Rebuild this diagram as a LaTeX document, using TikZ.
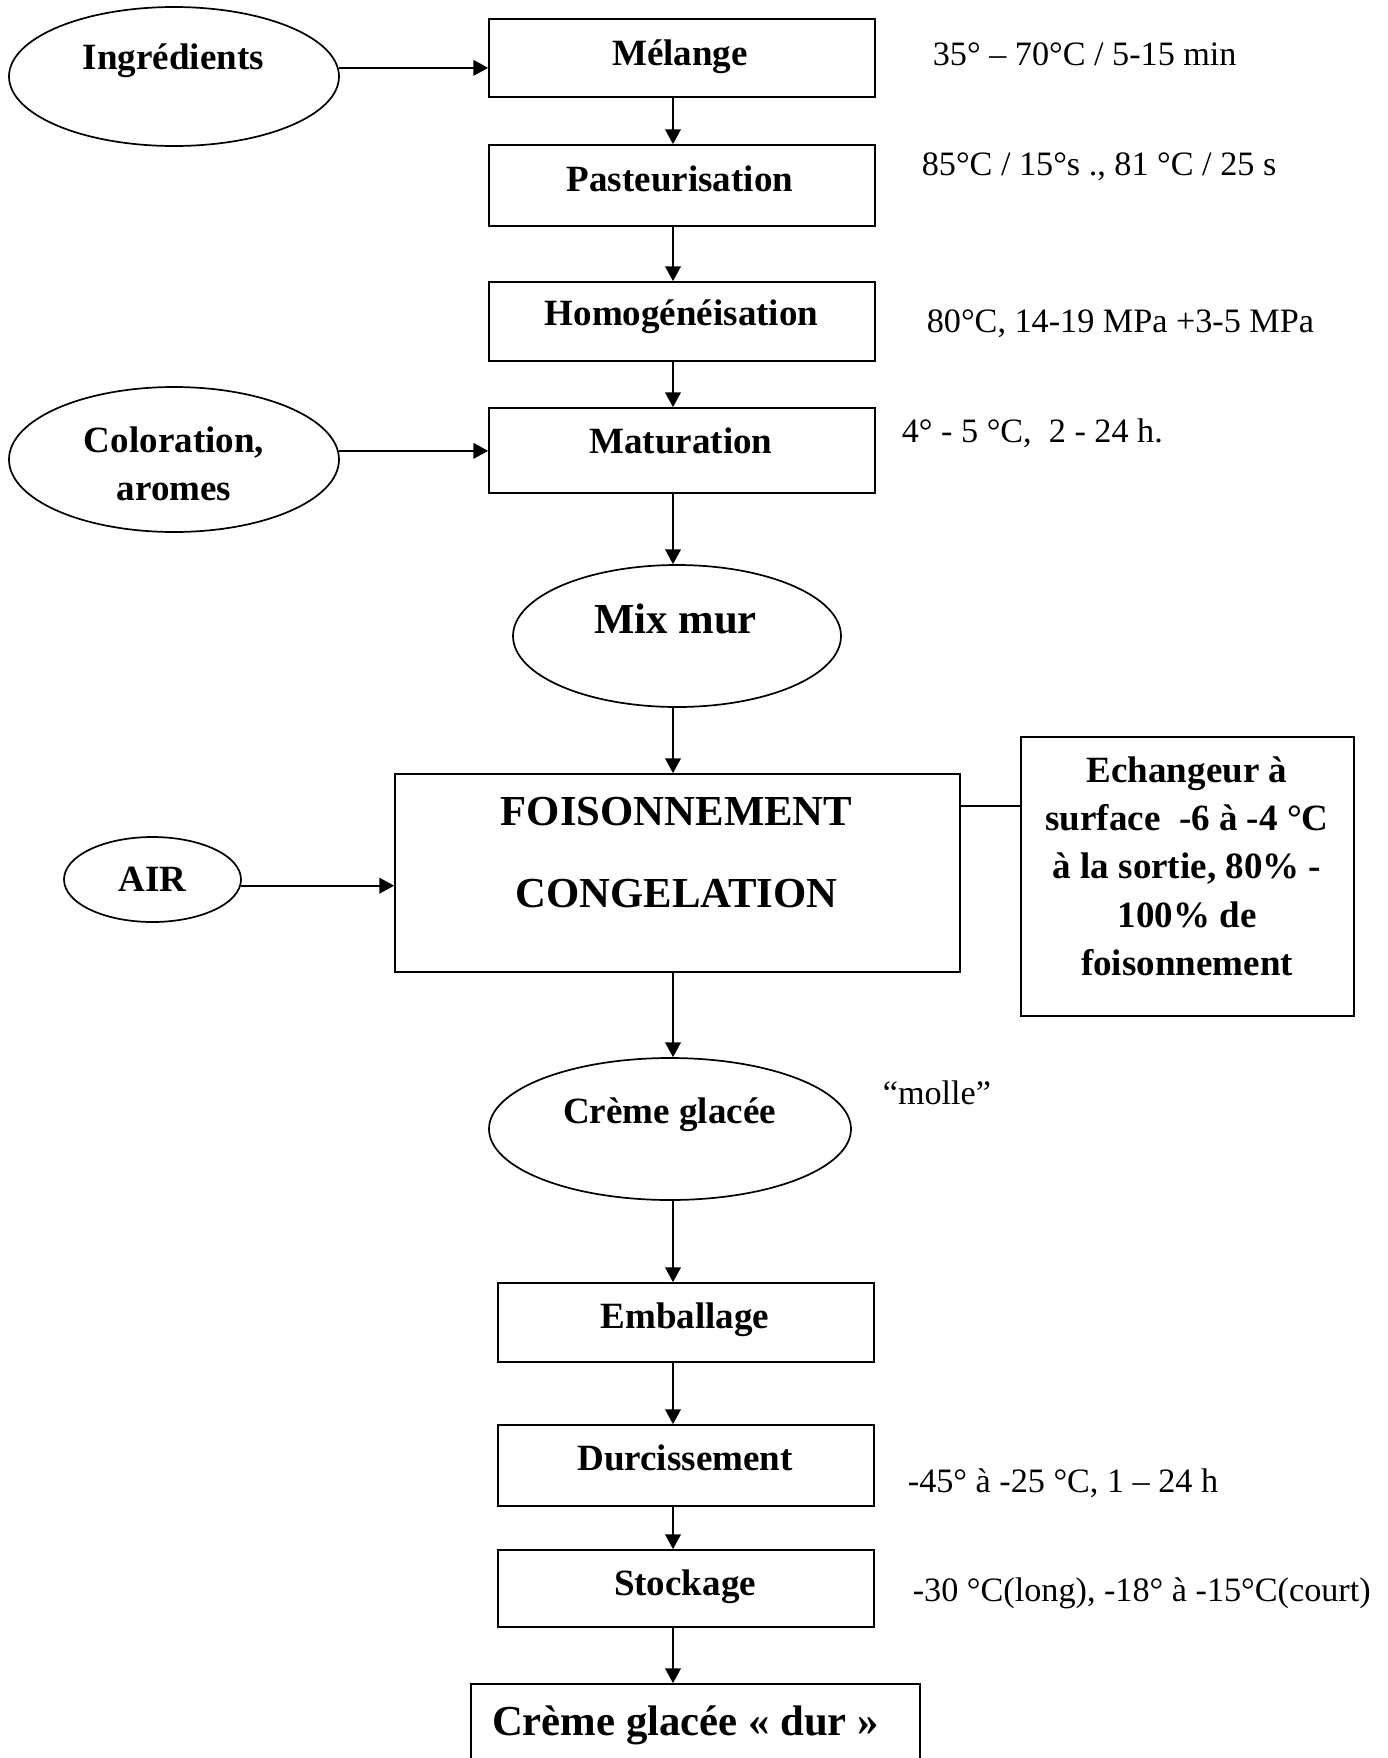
\documentclass[tikz,border=0pt]{standalone}
\usepackage{fontspec}
\setmainfont{Liberation Serif}
\usetikzlibrary{arrows.meta}
\usetikzlibrary{shapes.geometric}

\tikzset{
	sz/.style 2 args={minimum width=#1*0.351pt,minimum height=#2*0.351pt},
	stepbox/.style={draw,rectangle,inner sep=0pt},
	inbox/.style={draw,ellipse,inner sep=0pt},
	flow/.style={-{Triangle[length=5.2pt,width=5.5pt]}},
	lbl/.style={font=\fontsize{13}{17}\selectfont\bfseries,anchor=base,inner sep=0pt},
	biglbl/.style={font=\fontsize{15}{28.8}\selectfont\bfseries,anchor=base,inner sep=0pt},
	note/.style={font=\fontsize{12}{14}\selectfont,anchor=base west,inner sep=0pt},
}

\begin{document}
\begin{tikzpicture}[x=0.351pt,y=-0.351pt,line width=0.6pt]
	\useasboundingbox (0,0) rectangle (1387,1758);
	\clip (0,0) rectangle (1387,1758);
	\coordinate (axis) at (673,0);

	\node[inbox,sz={330}{139}] (ingred) at (174,76.5) {};
	\node[inbox,sz={330}{145}] (color) at (174,459.5) {};
	\node[stepbox,sz={386}{78}] (melange) at (682,58) {};
	\node[stepbox,sz={386}{81}] (pasteur) at (682,185.5) {};
	\node[stepbox,sz={386}{79}] (homog) at (682,321.5) {};
	\node[stepbox,sz={386}{85}] (matur) at (682,450.5) {};
	\node[inbox,sz={328}{142}] (mixmur) at (677,636) {};
	\node[inbox,sz={177}{85}] (air) at (152.5,879.5) {};
	\node[stepbox,sz={565}{198}] (foison) at (677.5,873) {};
	\node[stepbox,sz={333}{279}] (echang) at (1187.5,876.5) {};
	\node[inbox,sz={362}{142}] (creme) at (670,1129) {};
	\node[stepbox,sz={376}{79}] (emball) at (686,1322.5) {};
	\node[stepbox,sz={376}{81}] (durci) at (686,1465.5) {};
	\node[stepbox,sz={376}{77}] (stock) at (686,1588.5) {};
	\node[stepbox,sz={449}{90}] (final) at (695.5,1729) {};

	\node[lbl] (ingred-t) at (173.5,69) {Ingrédients};
	\node[lbl] (color-t) at (174,452) {\begin{tabular}[t]{@{}c@{}}Coloration,\\aromes\end{tabular}};
	\node[lbl] (melange-t) at (680,65) {Mélange};
	\node[lbl] (pasteur-t) at (680,191) {Pasteurisation};
	\node[lbl] (homog-t) at (681.5,325) {Homogénéisation};
	\node[lbl] (matur-t) at (681,453) {Maturation};
	\node[biglbl] (mixmur-t) at (675.5,633) {Mix mur};
	\node[lbl] (air-t) at (152.5,891) {AIR};
	\node[biglbl] (foison-t) at (676.5,825) {\begin{tabular}[t]{@{}c@{}}FOISONNEMENT\\CONGELATION\end{tabular}};
	\node[lbl] (echang-t) at (1187,782) {\begin{tabular}[t]{@{}c@{}}Echangeur à\\surface\ \ -6 à -4 °C\\à la sortie, 80\% -\\100\% de\\foisonnement\end{tabular}};
	\node[lbl] (creme-t) at (669.5,1123) {Crème glacée};
	\node[lbl] (emball-t) at (685,1328) {Emballage};
	\node[lbl] (durci-t) at (685,1470) {Durcissement};
	\node[lbl] (stock-t) at (685,1595) {Stockage};
	\node[biglbl] (final-t) at (685.5,1735) {Crème glacée « dur »};

	\node[note] (melange-n) at (932,65) {35° – 70°C / 5-15 min};
	\node[note] (pasteur-n) at (921,175) {85°C / 15°s ., 81 °C / 25 s};
	\node[note] (homog-n) at (926,332) {80°C, 14-19 MPa +3-5 MPa};
	\node[note] (matur-n) at (901,442) {4° - 5 °C,\ \ 2 - 24 h.};
	\node[note] (creme-n) at (882,1104) {“molle”};
	\node[note] (durci-n) at (907,1492) {-45° à -25 °C, 1 – 24 h};
	\node[note] (stock-n) at (912,1601) {-30 °C(long), -18° à -15°C(court)};

	\coordinate (link) at ([yshift=-11.6pt]foison.north east);

	\draw[flow] (ingred.3) -- (ingred.3 -| melange.west);
	\draw[flow] (color.3) -- (color.3 -| matur.west);
	\draw[flow] (air.-4) -- (air.-4 -| foison.west);
	\draw (link) -- (link -| echang.west);
	\draw[flow] (melange.south -| axis) -- (pasteur.north -| axis);
	\draw[flow] (pasteur.south -| axis) -- (homog.north -| axis);
	\draw[flow] (homog.south -| axis) -- (matur.north -| axis);
	\draw[flow] (matur.south -| axis) -- (mixmur.north -| axis);
	\draw[flow] (mixmur.south -| axis) -- (foison.north -| axis);
	\draw[flow] (foison.south -| axis) -- (creme.north -| axis);
	\draw[flow] (creme.south -| axis) -- (emball.north -| axis);
	\draw[flow] (emball.south -| axis) -- (durci.north -| axis);
	\draw[flow] (durci.south -| axis) -- (stock.north -| axis);
	\draw[flow] (stock.south -| axis) -- (final.north -| axis);
\end{tikzpicture}
\end{document}
